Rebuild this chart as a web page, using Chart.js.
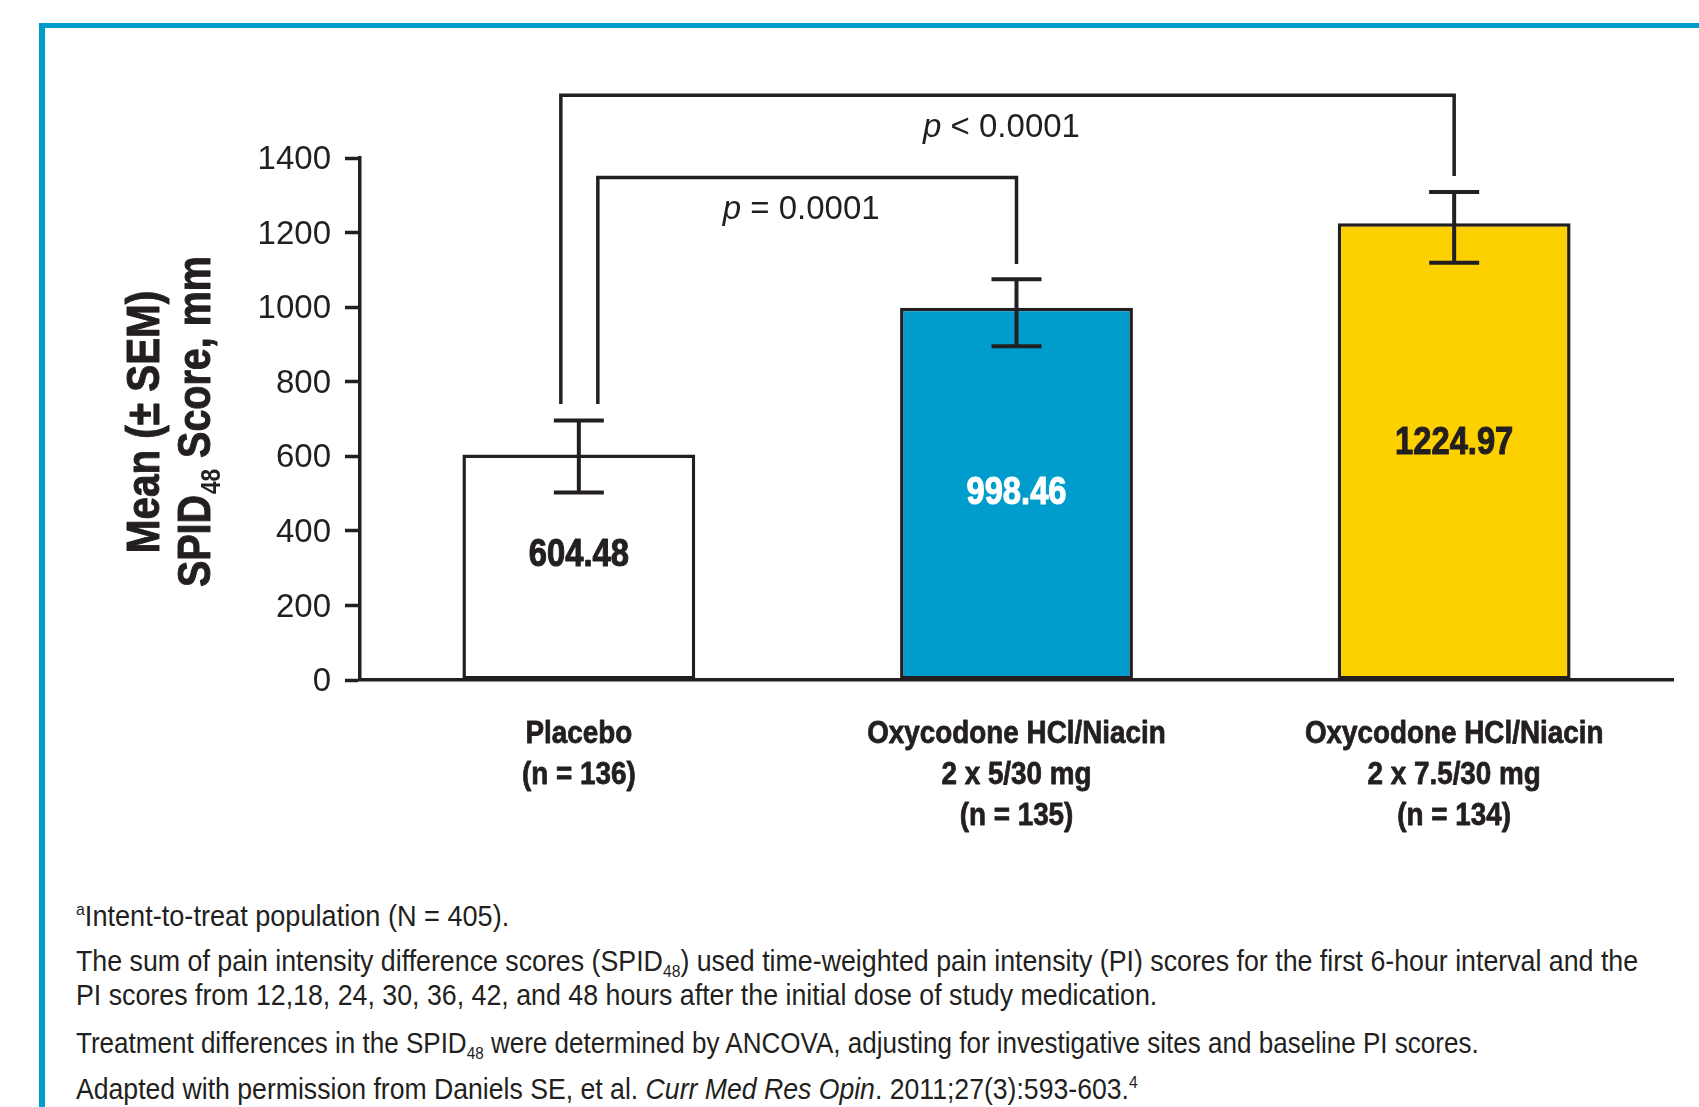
<!DOCTYPE html>
<html>
<head>
<meta charset="utf-8">
<script src="https://cdn.jsdelivr.net/npm/chart.js@4.4.0/dist/chart.umd.min.js"></script>
<style>
  html, body { margin: 0; padding: 0; background: #fff; }
  body { width: 1699px; height: 1107px; overflow: hidden; position: relative; }
  #frame {
    position: absolute; left: 39px; top: 23px; width: 1800px; height: 1200px;
    border-left: 6px solid #009ccc; border-top: 5px solid #009ccc;
  }
  #chart { position: absolute; left: 0; top: 0; }
  .note {
    position: absolute; left: 76px; white-space: nowrap;
    font-family: 'Liberation Sans', Arial, sans-serif;
    font-size: 29px; line-height: 34px; color: #231f20;
    transform-origin: 0 0;
  }
  .note sub, .note sup { font-size: 17px; line-height: 0; position: relative; vertical-align: baseline; }
  .note sub { top: 6px; }
  .note sup { top: -11px; }
</style>
</head>
<body>
<div id="frame"></div>
<canvas id="chart" width="1699" height="880"></canvas>

<div class="note" data-w="433" style="top:899px;"><sup>a</sup>Intent-to-treat population (N = 405).</div>
<div class="note" data-w="1562" style="top:944px;">The sum of pain intensity difference scores (SPID<sub>48</sub>) used time-weighted pain intensity (PI) scores for the first 6-hour interval and the<br>PI scores from 12,18, 24, 30, 36, 42, and 48 hours after the initial dose of study medication.</div>
<div class="note" data-w="1403" style="top:1026px;">Treatment differences in the SPID<sub>48</sub> were determined by ANCOVA, adjusting for investigative sites and baseline PI scores.</div>
<div class="note" data-w="1062" style="top:1072px;">Adapted with permission from Daniels SE, et al. <i>Curr Med Res Opin</i>. 2011;27(3):593-603.<sup>4</sup></div>

<script>
// data
const categories = [
  ['Placebo', '(n = 136)'],
  ['Oxycodone HCl/Niacin', '2 x 5/30 mg', '(n = 135)'],
  ['Oxycodone HCl/Niacin', '2 x 7.5/30 mg', '(n = 134)']
];
const means = [604.48, 998.46, 1224.97];
const errLow = [503, 895, 1119];
const errHigh = [696, 1075, 1309];
const yTicks = [0, 200, 400, 600, 800, 1000, 1200, 1400];

// significance brackets
const pairs = [[0, 2], [0, 1]];
const pairTops = [1568, 1348];
const pairEnds = [[740, 1352], [740, 1116]];
const pairText = ['< 0.0001', '= 0.0001'];

const barColors = ['#ffffff', '#009ccb', '#fdd000'];
const labelColors = ['#231f20', '#ffffff', '#231f20'];
const labelNudge = [-12, 0, -8];

const INK = '#231f20';
const SANS = "'Liberation Sans', Arial, sans-serif";
const SQUEEZE = 0.87;   // the original face is a condensed grotesque

const canvas = document.getElementById('chart');
const H = canvas.height;
const AXIS_Y = 680;

// draw horizontally squeezed text, with a hairline stroke to thicken it
function squeezed(ctx, txt, x, y, font, sx, heavy) {
  ctx.save();
  ctx.font = font;
  ctx.translate(x, y);
  ctx.scale(sx, 1);
  ctx.fillText(txt, 0, 0);
  if (heavy) {
    ctx.strokeStyle = ctx.fillStyle;
    ctx.lineWidth = heavy;
    ctx.lineJoin = 'round';
    ctx.strokeText(txt, 0, 0);
  }
  ctx.restore();
}

const extras = {
  id: 'extras',
  afterDatasetsDraw(chart) {
    const ctx = chart.ctx;
    const y = chart.scales.y;
    const xs = chart.scales.x;
    const bars = chart.getDatasetMeta(0).data;
    ctx.save();
    ctx.strokeStyle = INK;
    ctx.fillStyle = INK;
    ctx.lineCap = 'butt';

    // error bars
    ctx.lineWidth = 4;
    bars.forEach((b, i) => {
      const top = y.getPixelForValue(errHigh[i]);
      const bot = y.getPixelForValue(errLow[i]);
      ctx.beginPath();
      ctx.moveTo(b.x, top); ctx.lineTo(b.x, bot);
      ctx.moveTo(b.x - 25, top); ctx.lineTo(b.x + 25, top);
      ctx.moveTo(b.x - 25, bot); ctx.lineTo(b.x + 25, bot);
      ctx.stroke();
    });

    // value labels
    ctx.textAlign = 'center';
    ctx.textBaseline = 'middle';
    bars.forEach((b, i) => {
      ctx.fillStyle = labelColors[i];
      const mid = (y.getPixelForValue(means[i]) + y.getPixelForValue(0)) / 2 + labelNudge[i];
      squeezed(ctx, means[i].toFixed(2), b.x, mid, 'bold 38px ' + SANS, 0.86, 1.1);
    });

    // category labels under the axis
    ctx.fillStyle = INK;
    categories.forEach((lines, i) => {
      const cx = xs.getPixelForValue(i);
      lines.forEach((t, j) => {
        squeezed(ctx, t, cx, AXIS_Y + 54 + j * 41, 'bold 32px ' + SANS, SQUEEZE, 0.8);
      });
    });

    // brackets
    ctx.strokeStyle = INK;
    ctx.fillStyle = INK;
    ctx.lineWidth = 3.5;
    ctx.lineJoin = 'miter';
    pairs.forEach((p, k) => {
      const x1 = bars[p[0]].x + (k === 0 ? -18 : 19);
      const x2 = bars[p[1]].x;
      const yt = y.getPixelForValue(pairTops[k]);
      ctx.beginPath();
      ctx.moveTo(x1, y.getPixelForValue(pairEnds[k][0]));
      ctx.lineTo(x1, yt);
      ctx.lineTo(x2, yt);
      ctx.lineTo(x2, y.getPixelForValue(pairEnds[k][1]));
      ctx.stroke();

      const cx = (x1 + x2) / 2 - 6;
      const base = yt + 42;
      ctx.textBaseline = 'alphabetic';
      ctx.textAlign = 'left';
      ctx.font = 'italic 33px ' + SANS;
      const wp = ctx.measureText('p').width;
      ctx.font = '33px ' + SANS;
      const rest = ' ' + pairText[k];
      const wr = ctx.measureText(rest).width;
      const x0 = cx - (wp + wr) / 2;
      ctx.font = 'italic 33px ' + SANS;
      ctx.fillText('p', x0, base);
      ctx.font = '33px ' + SANS;
      ctx.fillText(rest, x0 + wp, base);
    });

    // y axis title, two rotated lines
    const cy = (y.getPixelForValue(0) + y.getPixelForValue(1400)) / 2 + 3;
    const big = 'bold 47px ' + SANS, small = 'bold 27px ' + SANS;
    ctx.textBaseline = 'alphabetic';
    ctx.lineWidth = 1;
    ctx.lineJoin = 'round';
    ctx.save();
    ctx.translate(159, cy);
    ctx.rotate(-Math.PI / 2);
    ctx.scale(0.86, 1);
    ctx.font = big;
    ctx.textAlign = 'center';
    ctx.fillText('Mean (\u00b1 SEM)', 0, 0);
    ctx.strokeText('Mean (\u00b1 SEM)', 0, 0);
    ctx.restore();

    ctx.save();
    ctx.translate(210, cy);
    ctx.rotate(-Math.PI / 2);
    ctx.scale(0.84, 1);
    ctx.textAlign = 'left';
    ctx.font = big;
    const a = 'SPID', c = ' Score, mm';
    const wa = ctx.measureText(a).width;
    const wc = ctx.measureText(c).width;
    ctx.font = small;
    const wb = ctx.measureText('48').width;
    const x = -(wa + wb + wc) / 2;
    ctx.font = big;
    ctx.fillText(a, x, 0); ctx.strokeText(a, x, 0);
    ctx.font = small;
    ctx.fillText('48', x + wa + 1, 10);
    ctx.font = big;
    ctx.fillText(c, x + wa + wb + 1, 0); ctx.strokeText(c, x + wa + wb + 1, 0);
    ctx.restore();

    ctx.restore();
  }
};

new Chart(canvas, {
  type: 'bar',
  data: {
    labels: categories,
    datasets: [{
      data: means,
      backgroundColor: barColors,
      borderColor: INK,
      borderWidth: 3.5,
      borderSkipped: false,
      barPercentage: 0.532,
      categoryPercentage: 1
    }]
  },
  options: {
    responsive: false,
    animation: false,
    devicePixelRatio: 1,
    layout: { padding: { left: 0, top: 158, right: 26, bottom: 0 } },
    plugins: { legend: { display: false }, tooltip: { enabled: false } },
    scales: {
      x: {
        grid: { display: false, drawTicks: false },
        border: { display: true, color: INK, width: 3.5 },
        ticks: { display: false },
        afterFit(scale) { scale.height = H - AXIS_Y; }
      },
      y: {
        min: 0,
        max: 1400,
        afterBuildTicks(scale) { scale.ticks = yTicks.map(v => ({ value: v })); },
        grid: { drawOnChartArea: false, drawTicks: true, tickLength: 15, tickWidth: 3.5, tickColor: INK },
        border: { display: true, color: INK, width: 3.5 },
        ticks: {
          color: INK,
          padding: 14,
          labelOffset: 2,
          font: { family: SANS, size: 33 },
          callback: v => String(v)
        },
        afterFit(scale) { scale.width = 360; }
      }
    }
  },
  plugins: [extras]
});

// footnotes: squeeze each to the condensed width of the original
document.querySelectorAll('.note').forEach(el => {
  const k = Number(el.dataset.w) / el.offsetWidth;
  el.style.transform = 'scaleX(' + k + ')';
});
</script>
</body>
</html>
